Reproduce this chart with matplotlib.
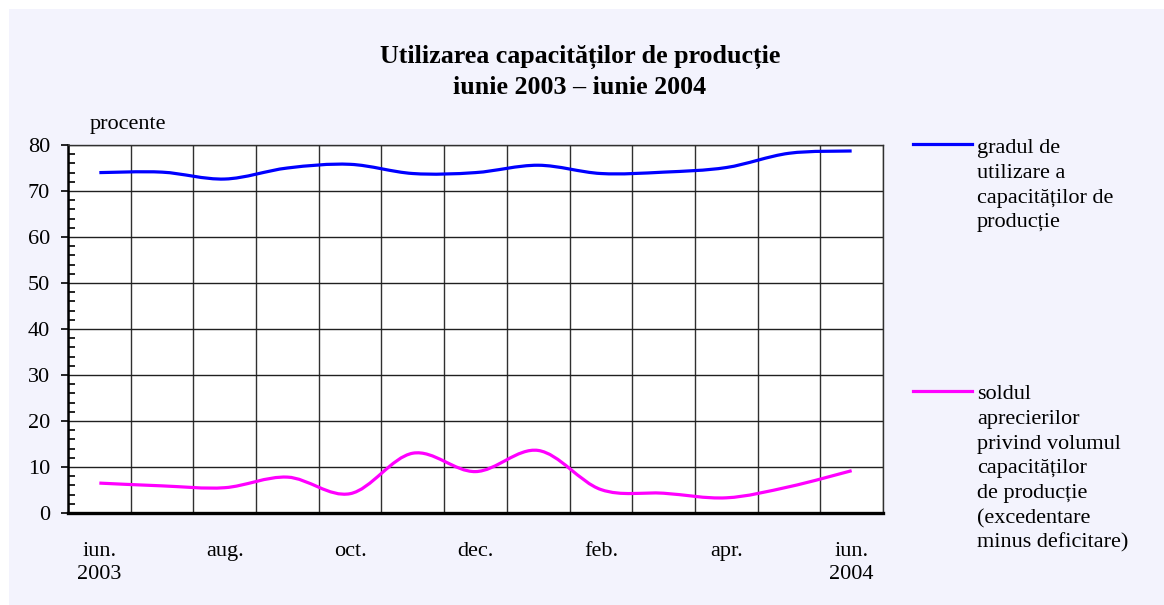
import matplotlib
matplotlib.use("Agg")
import matplotlib.pyplot as plt
from matplotlib.path import Path
from matplotlib.patches import PathPatch, Rectangle
from matplotlib.lines import Line2D
from matplotlib.ticker import MultipleLocator

# ── data (monthly, iunie 2003 – iunie 2004) ──
months = ["iun.", "iul.", "aug.", "sep.", "oct.", "nov.", "dec.",
          "ian.", "feb.", "mar.", "apr.", "mai", "iun."]
grad_utilizare = [74.0, 74.1, 72.6, 75.0, 75.8, 73.8, 74.0,
                  75.6, 73.8, 74.1, 75.1, 78.2, 78.7]
sold_aprecieri = [6.5, 5.9, 5.5, 7.8, 4.2, 13.0, 9.0,
                  13.6, 5.1, 4.3, 3.3, 5.7, 9.2]
xtick_labels = ["iun.\n2003", "aug.", "oct.", "dec.", "feb.", "apr.", "iun.\n2004"]

title_lines = ["Utilizarea capacităților de producție", "iunie 2003 – iunie 2004"]
leg_blue = ["gradul de", "utilizare a", "capacităților de", "producție"]
leg_pink = ["soldul", "aprecierilor", "privind volumul", "capacităților",
            "de producție", "(excedentare", "minus deficitare)"]

BLUE, PINK = "#0000ff", "#ff00ff"
BG = "#f3f3fd"
plt.rcParams["font.family"] = ["Liberation Serif", "DejaVu Serif"]

W, H = 1164, 605
FS = 16


def smooth_path(ys):
    # Excel-style smoothed line: cubic Bezier through every point (tension 1/6)
    pts = list(enumerate(ys))
    n = len(pts)
    verts, codes = [pts[0]], [Path.MOVETO]
    for i in range(n - 1):
        p0 = pts[max(i - 1, 0)]
        p1, p2 = pts[i], pts[i + 1]
        p3 = pts[min(i + 2, n - 1)]
        c1 = (p1[0] + (p2[0] - p0[0]) / 6, p1[1] + (p2[1] - p0[1]) / 6)
        c2 = (p2[0] - (p3[0] - p1[0]) / 6, p2[1] - (p3[1] - p1[1]) / 6)
        verts += [c1, c2, p2]
        codes += [Path.CURVE4] * 3
    return Path(verts, codes)


def px(x, y):
    # pixel position (from top-left) -> figure fraction
    return x / W, 1 - y / H


fig = plt.figure(figsize=(W / 100, H / 100), dpi=100)
fig.patch.set_facecolor("white")
fig.add_artist(Rectangle(px(9, H), 1, 1 - 9 / H,
                         transform=fig.transFigure, facecolor=BG,
                         edgecolor="none", zorder=-10))

ax = fig.add_axes([68 / W, 1 - 513 / H, (883 - 68) / W, (513 - 145) / H])
ax.set_facecolor("white")
ax.set_xlim(-0.5, len(months) - 0.5)
ax.set_ylim(0, 80)

for ys, col in [(grad_utilizare, BLUE), (sold_aprecieri, PINK)]:
    ax.add_patch(PathPatch(smooth_path(ys), fill=False, edgecolor=col,
                           lw=2.3, capstyle="butt", zorder=3))

# grid: horizontal every 10, vertical at category borders
ax.yaxis.set_major_locator(MultipleLocator(10))
ax.yaxis.set_minor_locator(MultipleLocator(2))
ax.set_xticks(range(0, len(months), 2))
ax.set_xticklabels(xtick_labels, fontsize=FS, linespacing=1.3)
ax.set_xticks([i + 0.5 for i in range(-1, len(months))], minor=True)
ax.grid(True, which="major", axis="y", color="#202020", lw=1.0)
ax.grid(True, which="minor", axis="x", color="#303030", lw=1.0)
ax.tick_params(axis="x", which="both", length=0, pad=21)
ax.tick_params(axis="y", which="major", direction="out", length=5,
               width=1.2, labelsize=FS, pad=8)
ax.tick_params(axis="y", which="minor", direction="in", length=5, width=1.2)
for side in ["top", "right"]:
    ax.spines[side].set_color("#303030")
    ax.spines[side].set_linewidth(1.0)
ax.spines["left"].set_linewidth(1.8)
ax.spines["bottom"].set_linewidth(2.4)
ax.set_axisbelow(True)

fig.text(*px(90, 129), "procente", fontsize=FS, va="baseline")
for k, line in enumerate(title_lines):
    fig.text(*px(580, 63 + 30.5 * k), line, fontsize=18.7, fontweight="bold",
             ha="center", va="baseline")

# legend drawn by hand (line + wrapped label, one baseline per row)
for y_line, y_base, rows, col in [(144, 153, leg_blue, BLUE),
                                  (391, 399, leg_pink, PINK)]:
    fig.add_artist(Line2D([913 / W, 972 / W], [1 - y_line / H] * 2,
                          transform=fig.transFigure, color=col, lw=2.3))
    for k, row in enumerate(rows):
        fig.text(*px(977, y_base + 24.8 * k), row, fontsize=FS, va="baseline")

fig.savefig("out.png", dpi=100, facecolor=fig.get_facecolor())
